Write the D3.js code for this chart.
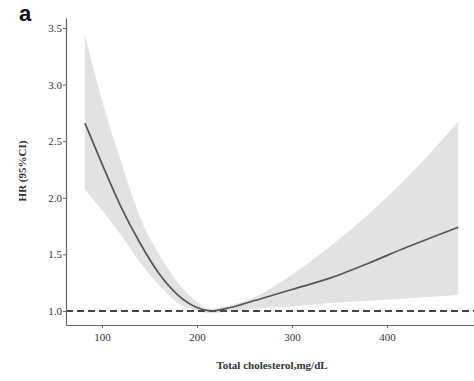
<!DOCTYPE html>
<html><head><meta charset="utf-8">
<script src="https://cdn.jsdelivr.net/npm/d3@7"></script>
<style>body{margin:0;background:#fff}svg{display:block}</style>
</head><body><svg id="c" width="474" height="381"></svg>
<script>
const cholesterol = [82, 100, 120, 140, 160, 180, 200, 215, 230, 260, 300, 340, 380, 420, 475];
const hr          = [2.66, 2.30, 1.92, 1.60, 1.33, 1.14, 1.03, 1.0, 1.02, 1.09, 1.19, 1.29, 1.42, 1.56, 1.74];
const upper       = [3.44, 2.86, 2.32, 1.83, 1.50, 1.25, 1.08, 1.02, 1.04, 1.12, 1.32, 1.57, 1.85, 2.17, 2.67];
const lower       = [2.07, 1.89, 1.67, 1.43, 1.23, 1.07, 1.00, 0.98, 0.99, 1.02, 1.04, 1.07, 1.09, 1.11, 1.14];
const xTicks = [100, 200, 300, 400];
const yTicks = [1.0, 1.5, 2.0, 2.5, 3.0, 3.5];
const refHR = 1.0;

const svg = d3.select('#c');
const x = d3.scaleLinear().domain([62.1, 491.6]).range([66, 474]);
const y = d3.scaleLinear().domain([0.876, 3.588]).range([325, 18]);
const data = cholesterol.map((c, i) => ({c, hr: hr[i], lo: lower[i], hi: upper[i]}));

svg.append('path').datum(data)
  .attr('fill', '#e2e2e2')
  .attr('d', d3.area().x(d => x(d.c)).y0(d => y(d.lo)).y1(d => y(d.hi)).curve(d3.curveMonotoneX));

svg.append('line')
  .attr('x1', 66).attr('x2', 474).attr('y1', y(refHR)).attr('y2', y(refHR))
  .attr('stroke', '#444').attr('stroke-width', 2).attr('stroke-dasharray', '7,4');

svg.append('path').datum(data)
  .attr('fill', 'none').attr('stroke', '#555').attr('stroke-width', 1.7)
  .attr('d', d3.line().x(d => x(d.c)).y(d => y(d.hr)).curve(d3.curveMonotoneX));

const fontF = '"Liberation Serif", "Times New Roman", serif';
const xa = svg.append('g').attr('transform', 'translate(0,325)')
  .call(d3.axisBottom(x).tickValues(xTicks).tickSize(3).tickSizeOuter(0));
const ya = svg.append('g').attr('transform', 'translate(66,0)')
  .call(d3.axisLeft(y).tickValues(yTicks).tickFormat(d3.format('.1f')).tickSize(3).tickSizeOuter(0));
[xa, ya].forEach(g => {
  g.select('.domain').attr('stroke', '#666').attr('stroke-width', 1.2);
  g.selectAll('.tick line').attr('stroke', '#666');
  g.selectAll('.tick text').attr('fill', '#333').style('font-family', fontF).style('font-size', '11px');
});
xa.selectAll('.tick text').attr('dy', '0.9em');
ya.selectAll('.tick text').attr('x', -4);

svg.append('text').attr('x', 272).attr('y', 369).attr('text-anchor', 'middle')
  .style('font-family', fontF).style('font-size', '11px').style('font-weight', 'bold').attr('fill', '#333')
  .text('Total cholesterol,mg/dL');
svg.append('text').attr('transform', 'translate(26,171) rotate(-90)').attr('text-anchor', 'middle')
  .style('font-family', fontF).style('font-size', '11px').style('font-weight', 'bold').attr('fill', '#333')
  .text('HR (95%CI)');
svg.append('text').attr('x', 19).attr('y', 21)
  .style('font-family', '"Liberation Sans", Arial, sans-serif').style('font-size', '22px').style('font-weight', 'bold').attr('fill', '#111')
  .text('a');
</script></body></html>
